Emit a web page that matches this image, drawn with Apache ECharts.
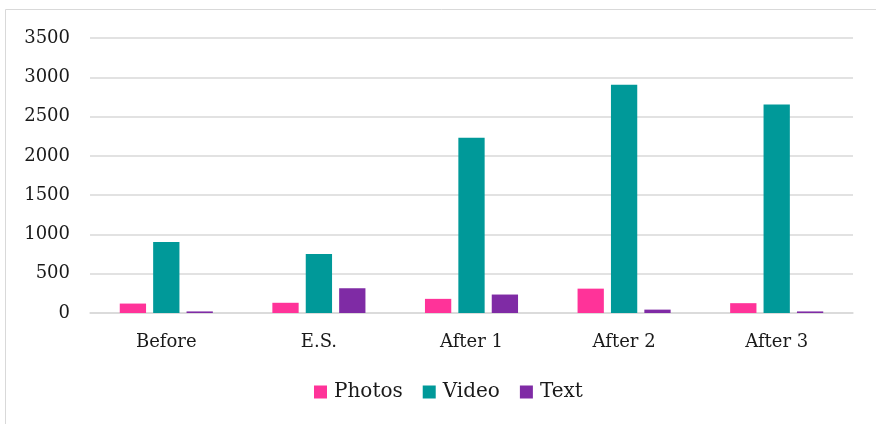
<!DOCTYPE html>
<html>
<head>
<meta charset="utf-8">
<script src="https://cdn.jsdelivr.net/npm/echarts@6/dist/echarts.min.js"></script>
<style>
  html, body { margin: 0; padding: 0; background: #fff; }
  #chart { width: 876px; height: 424px; }
</style>
</head>
<body>
<div id="chart"></div>
<script>
// Post counts per phase, by content type
const categories = ['Before', 'E.S.', 'After 1', 'After 2', 'After 3'];
const photos = [120, 130, 180, 310, 125];
const video = [905, 750, 2230, 2905, 2655];
const text = [20, 315, 235, 43, 20];
const yTicks = { min: 0, max: 3500, interval: 500 };

const FONT = 'DejaVu Serif';
const chart = echarts.init(document.getElementById('chart'), null, { renderer: 'canvas' });

const barSeries = (name, data, color) => ({
  name,
  type: 'bar',
  data,
  barGap: '27%',
  barCategoryGap: '39%',
  itemStyle: { color },
  emphasis: { disabled: true }
});

chart.setOption({
  animation: false,
  backgroundColor: '#fff',
  textStyle: { fontFamily: FONT },
  graphic: [{
    type: 'rect',
    shape: { x: 5.5, y: 9.5, width: 900, height: 500 },
    style: { fill: 'none', stroke: '#d9d9d9', lineWidth: 1 },
    silent: true
  }],
  grid: { left: 90, right: 23, top: 38, bottom: 111, containLabel: false },
  legend: {
    data: ['Photos', 'Video', 'Text'],
    bottom: 17,
    left: 309,
    itemWidth: 13,
    itemHeight: 13,
    itemGap: 20,
    icon: 'rect',
    textStyle: { fontFamily: FONT, fontSize: 20, color: '#1a1a1a', padding: [0, 0, 0, 2] }
  },
  xAxis: {
    type: 'category',
    data: categories,
    axisLine: { lineStyle: { color: '#d9d9d9', width: 1.5 } },
    axisTick: { show: false },
    axisLabel: { fontFamily: FONT, fontSize: 18, color: '#1a1a1a', margin: 20 }
  },
  yAxis: {
    type: 'value',
    min: yTicks.min,
    max: yTicks.max,
    interval: yTicks.interval,
    axisLine: { show: false },
    axisTick: { show: false },
    splitLine: { lineStyle: { color: '#d9d9d9', width: 1.5 } },
    axisLabel: {
      fontFamily: FONT, fontSize: 18, color: '#1a1a1a', margin: 20,
      formatter: v => String(v)
    }
  },
  series: [
    barSeries('Photos', photos, '#ff3399'),
    barSeries('Video', video, '#009999'),
    barSeries('Text', text, '#7f2ba5')
  ]
});
</script>
</body>
</html>
